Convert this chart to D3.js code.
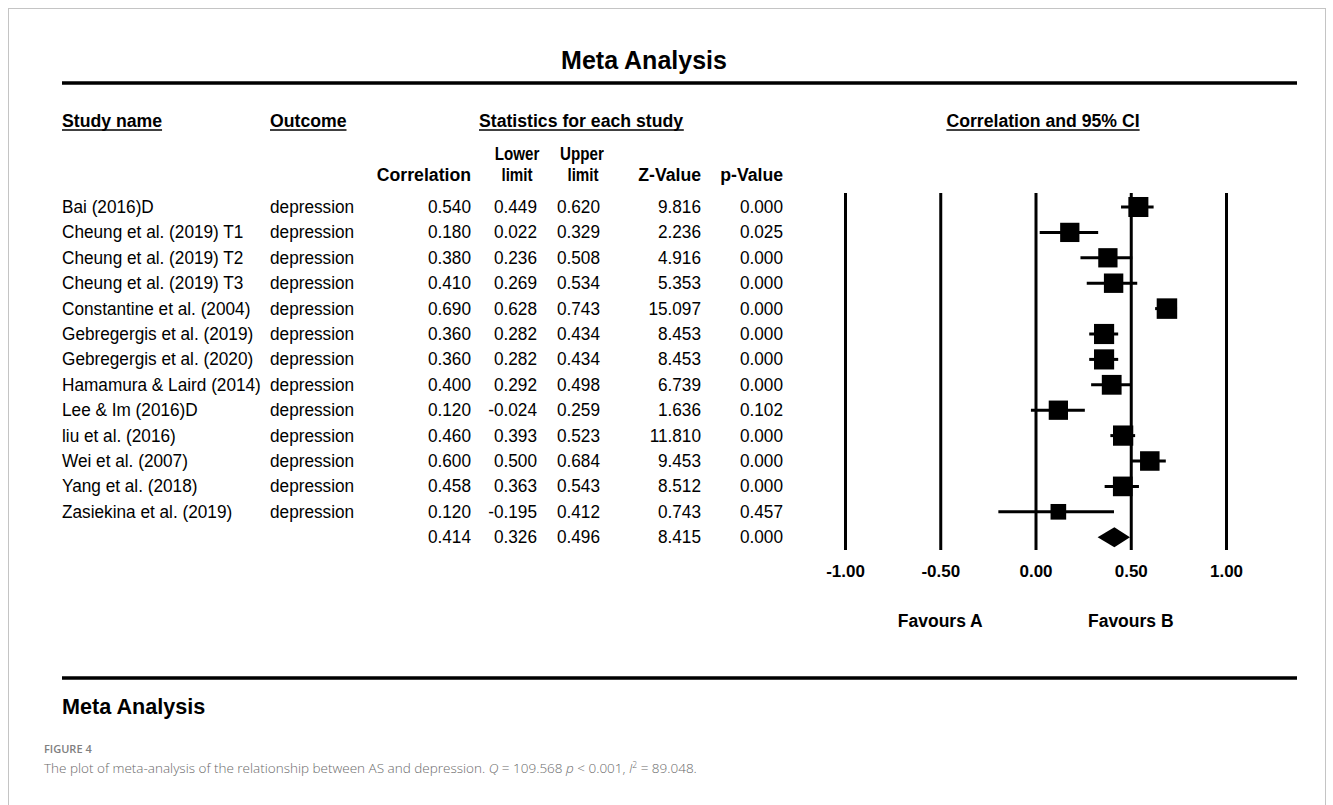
<!DOCTYPE html>
<html>
<head>
<meta charset="utf-8">
<script src="https://cdn.jsdelivr.net/npm/d3@7"></script>
<style>
  html, body { margin: 0; padding: 0; background: #fff; }
  svg { display: block; }
</style>
</head>
<body>
<svg id="chart" width="1333" height="805"></svg>
<script>
// ---------- DATA ----------
const studies = [
  "Bai (2016)D", "Cheung et al. (2019) T1", "Cheung et al. (2019) T2", "Cheung et al. (2019) T3",
  "Constantine et al. (2004)", "Gebregergis et al. (2019)", "Gebregergis et al. (2020)",
  "Hamamura & Laird (2014)", "Lee & Im (2016)D", "liu et al. (2016)", "Wei et al. (2007)",
  "Yang et al. (2018)", "Zasiekina et al. (2019)"
];
const outcomes = Array(13).fill("depression");
const correlation = [0.540, 0.180, 0.380, 0.410, 0.690, 0.360, 0.360, 0.400, 0.120, 0.460, 0.600, 0.458, 0.120];
const lowerLimit  = [0.449, 0.022, 0.236, 0.269, 0.628, 0.282, 0.282, 0.292, -0.024, 0.393, 0.500, 0.363, -0.195];
const upperLimit  = [0.620, 0.329, 0.508, 0.534, 0.743, 0.434, 0.434, 0.498, 0.259, 0.523, 0.684, 0.543, 0.412];
const zValue      = [9.816, 2.236, 4.916, 5.353, 15.097, 8.453, 8.453, 6.739, 1.636, 11.810, 9.453, 8.512, 0.743];
const pValue      = [0.000, 0.025, 0.000, 0.000, 0.000, 0.000, 0.000, 0.000, 0.102, 0.000, 0.000, 0.000, 0.457];
// relative weights
const weights     = [8.2, 7.6, 7.6, 7.7, 8.6, 8.3, 8.3, 8.0, 7.6, 8.4, 7.8, 7.9, 5.0];
const summary = { correlation: 0.414, lower: 0.326, upper: 0.496, z: 8.415, p: 0.000 };
const tickValues = [-1, -0.5, 0, 0.5, 1];
const tickLabels = ["-1.00", "-0.50", "0.00", "0.50", "1.00"];
const favours = [{ label: "Favours A", at: -0.5 }, { label: "Favours B", at: 0.5 }];

// ---------- LAYOUT ----------
const svg = d3.select("#chart");
const FONT = "'Liberation Sans', Arial, Helvetica, sans-serif";
const SX = 0.93; // horizontal condensation of the table text
const left = 62, right = 1297;
const rowY0 = 207, rowStep = 25.4;
const rowY = i => rowY0 + i * rowStep;

function txt(parent, x, y, str, o = {}) {
  return parent.append("text")
    .attr("transform", `translate(${x},${y}) scale(${o.sx ?? SX},1)`)
    .attr("text-anchor", o.anchor || "start")
    .attr("font-family", FONT)
    .attr("font-weight", o.bold ? "bold" : "normal")
    .attr("font-size", o.size || 18.5)
    .attr("fill", "#000")
    .text(str);
}

// outer frame
svg.append("rect").attr("x", 8.5).attr("y", 8.5).attr("width", 1317).attr("height", 820)
  .attr("fill", "none").attr("stroke", "#c4c4c4").attr("stroke-width", 1);

// Title
txt(svg, 644, 69, "Meta Analysis", { anchor: "middle", bold: true, size: 25, sx: 1 });
svg.append("line").attr("x1", left).attr("x2", right).attr("y1", 83).attr("y2", 83)
  .attr("stroke", "#000").attr("stroke-width", 3.5);

// underlined group headers
function underlined(x, y, s, anchor) {
  const t = txt(svg, x, y, s, { anchor, bold: true, size: 19 });
  const bb = t.node().getBBox();
  const x0 = x + bb.x * SX, w = bb.width * SX;
  svg.append("line").attr("x1", x0).attr("x2", x0 + w).attr("y1", y + 3).attr("y2", y + 3)
    .attr("stroke", "#000").attr("stroke-width", 1.4);
}
underlined(left, 127, "Study name");
underlined(270, 127, "Outcome");
underlined(581, 127, "Statistics for each study", "middle");
underlined(1043, 127, "Correlation and 95% CI", "middle");

// stat columns (right edges)
const colX = { corr: 471, lower: 537, upper: 600, z: 701, p: 783 };
const hb = { bold: true, size: 19 };
const hn = { bold: true, size: 18.5, sx: 0.82, anchor: "middle" };
txt(svg, colX.corr, 181, "Correlation", { ...hb, anchor: "end" });
txt(svg, 517, 160, "Lower", hn);
txt(svg, 517, 181, "limit", hn);
txt(svg, 582, 160, "Upper", hn);
txt(svg, 583, 181, "limit", hn);
txt(svg, colX.z, 181, "Z-Value", { ...hb, anchor: "end" });
txt(svg, colX.p, 181, "p-Value", { ...hb, anchor: "end" });

// table rows
const f3 = v => v.toFixed(3);
const rows = studies.map((s, i) => ({
  study: s, outcome: outcomes[i], r: correlation[i], lo: lowerLimit[i], hi: upperLimit[i],
  z: zValue[i], p: pValue[i], w: weights[i], i
}));
const tbl = svg.append("g");
const rg = tbl.selectAll("g.row").data(rows).join("g").attr("class", "row")
  .attr("transform", d => `translate(0,${rowY(d.i) + 6})`);
rg.each(function (d) {
  const g = d3.select(this);
  txt(g, left, 0, d.study);
  txt(g, 270, 0, d.outcome);
  txt(g, colX.corr, 0, f3(d.r), { anchor: "end" });
  txt(g, colX.lower, 0, f3(d.lo), { anchor: "end" });
  txt(g, colX.upper, 0, f3(d.hi), { anchor: "end" });
  txt(g, colX.z, 0, f3(d.z), { anchor: "end" });
  txt(g, colX.p, 0, f3(d.p), { anchor: "end" });
});
// summary row
const sy = rowY(studies.length) + 6;
[[colX.corr, summary.correlation], [colX.lower, summary.lower], [colX.upper, summary.upper],
 [colX.z, summary.z], [colX.p, summary.p]].forEach(([x, v]) =>
  txt(tbl, x, sy, f3(v), { anchor: "end" }));

// ---------- FOREST PLOT ----------
const x = d3.scaleLinear().domain([-1, 1]).range([845, 1226]);
const axisY = 550, topY = 193;
const axis = d3.axisBottom(x).tickValues(tickValues)
  .tickFormat((d, i) => tickLabels[i]).tickSizeInner(-(axisY - topY)).tickSizeOuter(0).tickPadding(15);
const ag = svg.append("g").attr("transform", `translate(0,${axisY})`).call(axis);
ag.select(".domain").remove();
ag.selectAll(".tick line").attr("stroke", "#000").attr("stroke-width", 3);
ag.selectAll(".tick text").attr("font-family", FONT).attr("font-weight", "bold")
  .attr("font-size", 17).attr("fill", "#000");

const size = d3.scaleSqrt().domain([0, d3.max(weights)]).range([0, 20.5]);
const fp = svg.append("g");
fp.selectAll("line.ci").data(rows).join("line").attr("class", "ci")
  .attr("x1", d => x(d.lo)).attr("x2", d => x(d.hi))
  .attr("y1", d => rowY(d.i)).attr("y2", d => rowY(d.i))
  .attr("stroke", "#000").attr("stroke-width", 3);
fp.selectAll("rect.pt").data(rows).join("rect").attr("class", "pt")
  .attr("x", d => x(d.r) - size(d.w) / 2).attr("y", d => rowY(d.i) - size(d.w) / 2)
  .attr("width", d => size(d.w)).attr("height", d => size(d.w)).attr("fill", "#000");
// diamond
const dy = rowY(studies.length);
fp.append("path").attr("fill", "#000")
  .attr("d", `M${x(summary.lower)},${dy} L${x(summary.correlation)},${dy - 10} L${x(summary.upper)},${dy} L${x(summary.correlation)},${dy + 10} Z`);

svg.append("g").selectAll("text").data(favours).join("text")
  .attr("x", d => x(d.at)).attr("y", 627).attr("text-anchor", "middle")
  .attr("font-family", FONT).attr("font-weight", "bold").attr("font-size", 17.5)
  .text(d => d.label);

// bottom rule & label
svg.append("line").attr("x1", left).attr("x2", right).attr("y1", 678).attr("y2", 678)
  .attr("stroke", "#000").attr("stroke-width", 3.5);
txt(svg, left, 714, "Meta Analysis", { bold: true, size: 22.5, sx: 0.96 });

// caption
const CAP = "'Open Sans', 'Noto Sans', sans-serif";
svg.append("text").attr("x", 44).attr("y", 753).attr("font-family", CAP)
  .attr("font-size", 11).attr("fill", "#808080").attr("font-weight", 600).text("FIGURE 4");
const cap = svg.append("text").attr("x", 44).attr("y", 773).attr("font-family", CAP)
  .attr("font-size", 13.5).attr("fill", "#6a6a6a").attr("font-weight", 300);
cap.append("tspan").text("The plot of meta-analysis of the relationship between AS and depression. ");
cap.append("tspan").attr("font-style", "italic").text("Q");
cap.append("tspan").text(" = 109.568 ");
cap.append("tspan").attr("font-style", "italic").text("p");
cap.append("tspan").text(" < 0.001, ");
cap.append("tspan").attr("font-style", "italic").text("I");
cap.append("tspan").attr("font-size", 8.5).attr("dy", -5).text("2");
cap.append("tspan").attr("dy", 5).text(" = 89.048.");
</script>
</body>
</html>
